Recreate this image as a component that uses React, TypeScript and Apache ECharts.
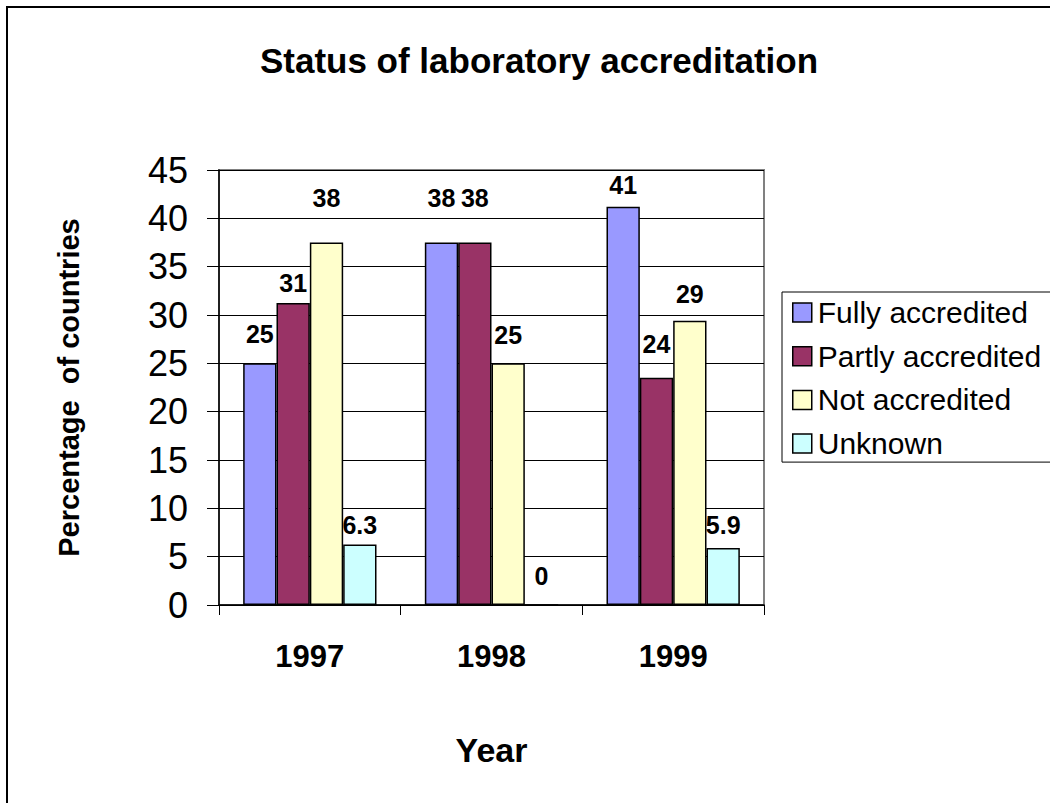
import React, { useEffect, useRef } from "react";
import * as echarts from "echarts";

const years = ["1997", "1998", "1999"];
const seriesNames = ["Fully accredited", "Partly accredited", "Not accredited", "Unknown"];
const fullyAccredited = [25, 37.5, 41.2];
const partlyAccredited = [31.25, 37.5, 23.5];
const notAccredited = [37.5, 25, 29.4];
const unknownStatus = [6.25, 0, 5.9];
const yMin = 0;
const yMax = 45;
const yStep = 5;

const colors = ["#9999FF", "#993366", "#FFFFCC", "#CCFFFF"];
// vertical lift of each data label centre above its bar top (px), styling only
const labelLift = [
  [29, 44.5, 22],
  [20, 44.5, 34],
  [44.5, 28, 27],
  [20, 28, 23],
];

const FONT = "Arial, 'Liberation Sans', sans-serif";

export default function App() {
  const ref = useRef<HTMLDivElement>(null);
  useEffect(() => {
    if (!ref.current) return;
    const chart = echarts.init(ref.current, undefined, { renderer: "svg" });
    const allValues = [fullyAccredited, partlyAccredited, notAccredited, unknownStatus];
    const labelSize = 25;
    const series = allValues.map((vals, si) => ({
      name: seriesNames[si],
      type: "bar",
      barGap: "0%",
      barCategoryGap: "26.6%",
      itemStyle: { color: colors[si], borderColor: "#000", borderWidth: 1.5 },
      label: {
        show: true,
        position: "top",
        color: "#000",
        fontFamily: FONT,
        fontWeight: "bold",
        fontSize: labelSize,
        formatter: (p: any) => {
          const v = p.value as number;
          return v > 0 && v < 10 ? v.toFixed(1) : String(Math.round(v));
        },
      },
      data: vals.map((v, i) => ({
        value: v,
        label: { distance: labelLift[si][i] - labelSize / 2 },
      })),
    }));

    chart.setOption({
      animation: false,
      backgroundColor: "#fff",
      textStyle: { fontFamily: FONT },
      title: {
        text: "Status of laboratory accreditation",
        left: 534,
        top: 38,
        textAlign: "center",
        textStyle: { fontFamily: FONT, fontWeight: "bold", fontSize: 35, color: "#000" },
      },
      legend: {
        orient: "vertical",
        left: 782,
        top: 292,
        padding: [5.5, 80, 3.5, 10],
        itemGap: 13.7,
        itemWidth: 19,
        itemHeight: 19,
        borderColor: "#000",
        borderWidth: 1,
        backgroundColor: "#fff",
        icon: "rect",
        data: seriesNames.map((n) => ({ name: n, itemStyle: { borderColor: "#000", borderWidth: 1.5 } })),
        textStyle: { fontFamily: FONT, fontSize: 30, lineHeight: 29, color: "#000", padding: [0, 0, 0, 1] },
      },
      grid: {
        left: 219,
        right: 286,
        top: 170,
        bottom: 198,
        show: true,
        borderColor: "#808080",
        borderWidth: 2,
        backgroundColor: "transparent",
      },
      xAxis: {
        type: "category",
        data: years,
        name: "Year",
        nameLocation: "middle",
        nameGap: 128,
        nameTextStyle: { fontFamily: FONT, fontWeight: "bold", fontSize: 34, color: "#000" },
        axisLine: { lineStyle: { color: "#000", width: 1.5 } },
        axisTick: { show: true, length: 10, lineStyle: { color: "#000", width: 1 } },
        axisLabel: { fontFamily: FONT, fontWeight: "bold", fontSize: 31, color: "#000", margin: 36 },
      },
      yAxis: {
        type: "value",
        min: yMin,
        max: yMax,
        interval: yStep,
        name: "Percentage  of countries",
        nameLocation: "middle",
        nameGap: 136,
        nameRotate: 90,
        nameTextStyle: { fontFamily: FONT, fontWeight: "bold", fontSize: 29, color: "#000" },
        axisLine: { show: true, lineStyle: { color: "#000", width: 1.5 } },
        axisTick: { show: true, length: 12, lineStyle: { color: "#000", width: 1 } },
        axisLabel: { fontFamily: FONT, fontSize: 36, color: "#000", margin: 31 },
        splitLine: { show: true, lineStyle: { color: "#000", width: 1 } },
      },
      graphic: [
        {
          type: "rect",
          shape: { x: 7, y: 7, width: 1200, height: 1000 },
          style: { fill: "none", stroke: "#000", lineWidth: 2 },
          silent: true,
          z: 100,
        },
      ],
      series,
    });
    return () => chart.dispose();
  }, []);
  return (
    <div
      ref={ref}
      style={{ position: "absolute", left: 0, top: 0, width: 1050, height: 803 }}
    />
  );
}
